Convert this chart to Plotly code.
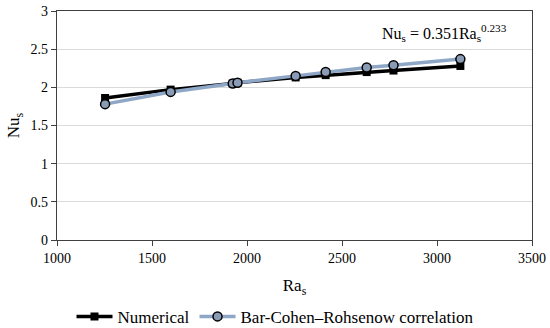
import plotly.graph_objects as go

ra = [1253, 1598, 1925, 1950, 2256, 2414, 2630, 2771, 3123]
nu_numerical = [1.86, 1.97, 2.05, 2.06, 2.13, 2.16, 2.20, 2.22, 2.28]
nu_correlation = [1.78, 1.94, 2.05, 2.06, 2.15, 2.20, 2.26, 2.29, 2.37]

FF = "Liberation Serif"

fig = go.Figure()
fig.add_trace(go.Scatter(
    x=ra, y=nu_numerical, name="Numerical", mode="lines+markers",
    line=dict(color="black", width=3.5),
    marker=dict(symbol="square", size=8, color="black"),
))
fig.add_trace(go.Scatter(
    x=ra, y=nu_correlation, name="Bar-Cohen–Rohsenow correlation", mode="lines+markers",
    line=dict(color="#8FA7C6", width=3.5),
    marker=dict(symbol="circle", size=9, color="#8A9CB5", line=dict(color="black", width=1.5)),
))

fig.add_annotation(
    x=3040, y=2.71, xref="x", yref="y",
    text="Nu<sub>s</sub> = 0.351Ra<sub>s</sub><sup>0.233</sup>",
    showarrow=False, font=dict(family=FF, size=16, color="black"),
    xanchor="center", yanchor="middle",
)

fig.update_layout(
    width=550, height=328,
    margin=dict(l=57, r=18, t=11, b=88),
    paper_bgcolor="white", plot_bgcolor="white",
    font=dict(family=FF, size=14, color="black"),
    showlegend=True,
    legend=dict(orientation="h", xref="container", yref="container",
                x=0.5, xanchor="center", y=0.034, yanchor="middle",
                font=dict(family=FF, size=17, color="black"), itemwidth=36,
                bgcolor="rgba(0,0,0,0)"),
)
fig.update_xaxes(
    range=[1000, 3500], dtick=500, showgrid=False, automargin=False,
    showline=True, linecolor="#404040", linewidth=1.2, mirror=True,
    ticks="outside", ticklen=5, tickcolor="#404040",
    title=dict(text="Ra<sub>s</sub>", font=dict(family=FF, size=17, color="black"), standoff=14),
    tickfont=dict(family=FF, size=14, color="black"),
)
fig.update_yaxes(
    range=[0, 3], dtick=0.5, showgrid=True, gridcolor="#DADADA", gridwidth=1, automargin=False,
    showline=True, linecolor="#404040", linewidth=1.2, mirror=True,
    ticks="outside", ticklen=5, tickcolor="#404040",
    title=dict(text="Nu<sub>s</sub>", font=dict(family=FF, size=17, color="black"), standoff=6),
    tickfont=dict(family=FF, size=14, color="black"), zeroline=False,
)

fig.write_html("out.html", config={"displayModeBar": False},
               post_script="document.body.style.margin='0';document.body.style.overflow='hidden';")
